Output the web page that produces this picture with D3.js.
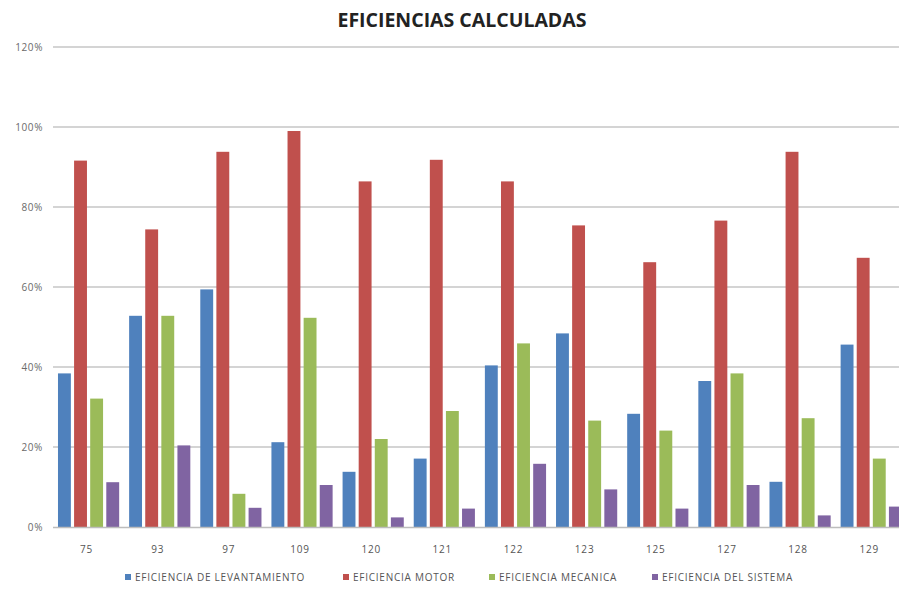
<html>
<head>
<meta charset="utf-8">
<style>
body { margin: 0; background: #ffffff; }
text { font-family: "Open Sans", "DejaVu Sans", sans-serif; }
</style>
</head>
<body>
<div id="plot"></div>

<script src="https://d3js.org/d3.v7.min.js"></script>
<script type="text/javascript">
// chart data (percent)
var categories = ["75", "93", "97", "109", "120", "121", "122", "123", "125", "127", "128", "129"];
var seriesNames = ["EFICIENCIA DE LEVANTAMIENTO", "EFICIENCIA MOTOR", "EFICIENCIA MECANICA", "EFICIENCIA DEL SISTEMA"];
var levantamiento = [38.4, 52.8, 59.4, 21.2, 13.8, 17.1, 40.4, 48.4, 28.3, 36.5, 11.3, 45.6];
var motor         = [91.6, 74.4, 93.8, 99.0, 86.4, 91.8, 86.4, 75.4, 66.2, 76.6, 93.8, 67.3];
var mecanica      = [32.1, 52.8, 8.3, 52.3, 22.0, 29.0, 45.9, 26.6, 24.1, 38.4, 27.2, 17.1];
var sistema       = [11.2, 20.4, 4.8, 10.5, 2.4, 4.6, 15.8, 9.4, 4.6, 10.5, 2.9, 5.1];
var yTicks = [0, 20, 40, 60, 80, 100, 120];
var colors = ["#4f81bd", "#c0504d", "#9bbb59", "#8064a2"];

var allSeries = [levantamiento, motor, mecanica, sistema];

var width = 899, height = 591;
var plotLeft = 53, plotTop = 47, plotBottom = 527;

var svg = d3.select("#plot")
  .append("svg")
  .attr("width", width)
  .attr("height", height)
  .style("background-color", "white");

// scales
var x0 = d3.scaleBand()
  .domain(categories)
  .range([plotLeft, plotLeft + 12 * 71.15])
  .paddingInner(0.14)
  .paddingOuter(0.07);

var x1 = d3.scaleBand()
  .domain(d3.range(seriesNames.length))
  .range([0, x0.bandwidth()])
  .paddingInner(0.2);

var y = d3.scaleLinear()
  .domain([0, 120])
  .range([plotBottom, plotTop]);

// gridlines
svg.append("g")
  .selectAll("line")
  .data(yTicks.filter(function(d){ return d > 0; }))
  .enter()
  .append("line")
  .attr("x1", plotLeft)
  .attr("x2", width)
  .attr("y1", function(d){ return y(d); })
  .attr("y2", function(d){ return y(d); })
  .style("stroke", "#c6c6c6")
  .style("stroke-width", 1.5);

// y labels
svg.append("g")
  .selectAll("text")
  .data(yTicks)
  .enter()
  .append("text")
  .attr("x", 43)
  .attr("y", function(d){ return y(d) + 3.5; })
  .attr("text-anchor", "end")
  .style("font-size", "10px")
  .style("letter-spacing", "0.6px")
  .style("fill", "#6a6a6a")
  .text(function(d){ return d + "%"; });

// bars
var groups = svg.append("g")
  .selectAll("g")
  .data(categories)
  .enter()
  .append("g")
  .attr("transform", function(d){ return "translate(" + x0(d) + ",0)"; });

groups.selectAll("rect")
  .data(function(d, i){
    return allSeries.map(function(s, k){ return {k: k, v: s[i]}; });
  })
  .enter()
  .append("rect")
  .attr("x", function(d){ return x1(d.k); })
  .attr("width", x1.bandwidth())
  .attr("y", function(d){ return y(d.v); })
  .attr("height", function(d){ return plotBottom - y(d.v); })
  .style("fill", function(d){ return colors[d.k]; });

// x axis line
svg.append("line")
  .attr("x1", plotLeft)
  .attr("x2", width)
  .attr("y1", plotBottom + 0.5)
  .attr("y2", plotBottom + 0.5)
  .style("stroke", "#bdbdbd")
  .style("stroke-width", 1.5);

// x labels
svg.append("g")
  .selectAll("text")
  .data(categories)
  .enter()
  .append("text")
  .attr("x", function(d){ return x0(d) + x0.bandwidth() / 2 - 2; })
  .attr("y", 553)
  .attr("text-anchor", "middle")
  .style("font-size", "10px")
  .style("letter-spacing", "0.8px")
  .style("fill", "#555555")
  .text(function(d){ return d; });

// title
svg.append("text")
  .attr("x", 462)
  .attr("y", 27)
  .attr("text-anchor", "middle")
  .style("font-size", "19.5px")
  .style("font-weight", "bold")
  .style("fill", "#222222")
  .text("EFICIENCIAS CALCULADAS");

// legend
var legendX = [125, 343, 489, 652];
var legend = svg.append("g")
  .selectAll("g")
  .data(seriesNames)
  .enter()
  .append("g")
  .attr("transform", function(d, i){ return "translate(" + legendX[i] + ",581)"; });

legend.append("rect")
  .attr("x", 0)
  .attr("y", -7)
  .attr("width", 6)
  .attr("height", 6)
  .style("fill", function(d, i){ return colors[i]; });

legend.append("text")
  .attr("x", 10)
  .attr("y", 0)
  .style("font-size", "10px")
  .style("letter-spacing", "0.75px")
  .style("fill", "#555555")
  .text(function(d){ return d; });
</script>
</body>
</html>
